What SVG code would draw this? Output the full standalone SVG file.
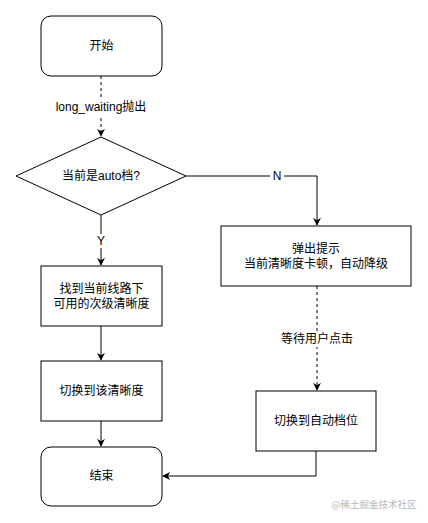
<svg xmlns="http://www.w3.org/2000/svg" width="428" height="523" viewBox="0 0 428 523">
<style>
.n{fill:#fff;stroke:#000;stroke-width:1}
.t{font-family:"Liberation Sans","Noto Sans CJK SC",sans-serif;font-size:12px;fill:#000;text-anchor:middle;dominant-baseline:central}
.e{fill:none;stroke:#000;stroke-width:1}
.d{stroke-dasharray:3,3}
.lb{fill:#fff}
</style>
<defs>
<marker id="a" viewBox="0 0 10 10" refX="9" refY="5" markerWidth="8" markerHeight="8" markerUnits="userSpaceOnUse" orient="auto">
<path d="M0,0 L10,5 L0,10 L3,5 Z" fill="#000"/>
</marker>
</defs>
<rect width="428" height="523" fill="#fff"/>
<g id="edges">
<path class="e d" d="M101,76 V136" marker-end="url(#a)"/>
<path class="e" d="M186,176 H317 V225" marker-end="url(#a)"/>
<path class="e" d="M101,215 V265" marker-end="url(#a)"/>
<path class="e" d="M101,326 V360" marker-end="url(#a)"/>
<path class="e" d="M101,421 V446" marker-end="url(#a)"/>
<path class="e d" d="M317,286 V390" marker-end="url(#a)"/>
<path class="e" d="M316,451 V476 H163" marker-end="url(#a)"/>
<rect class="lb" x="54" y="99" width="94" height="16"/>
<text class="t" x="101" y="107">long_waiting抛出</text>
<rect class="lb" x="270" y="169" width="14" height="14"/>
<text class="t" x="277" y="176">N</text>
<rect class="lb" x="95" y="234" width="12" height="14"/>
<text class="t" x="101" y="241">Y</text>
<rect class="lb" x="280" y="331" width="74" height="16"/>
<text class="t" x="317" y="339">等待用户点击</text>
</g>
<g id="start"><rect class="n" x="41" y="16" width="121" height="60" rx="10"/><text class="t" x="101.5" y="46">开始</text></g>
<g id="decision"><path class="n" d="M101,137 L186,176 L101,215 L16,176 Z"/><text class="t" x="101" y="176">当前是auto档?</text></g>
<g id="tip"><rect class="n" x="221" y="226" width="190" height="60"/><text class="t" x="316" y="249">弹出提示</text><text class="t" x="316" y="264">当前清晰度卡顿，自动降级</text></g>
<g id="find"><rect class="n" x="41" y="266" width="121" height="60"/><text class="t" x="101.5" y="289">找到当前线路下</text><text class="t" x="101.5" y="304">可用的次级清晰度</text></g>
<g id="switch"><rect class="n" x="41" y="361" width="121" height="60"/><text class="t" x="101.5" y="391">切换到该清晰度</text></g>
<g id="auto"><rect class="n" x="256" y="391" width="120" height="60"/><text class="t" x="316" y="421">切换到自动档位</text></g>
<g id="end"><rect class="n" x="41" y="447" width="121" height="59" rx="10"/><text class="t" x="101.5" y="476">结束</text></g>
<text x="374" y="504" style="font-family:'Noto Sans CJK SC',sans-serif;font-size:9.5px;fill:#b8b8b8;text-anchor:middle;dominant-baseline:central">@稀土掘金技术社区</text>
</svg>
